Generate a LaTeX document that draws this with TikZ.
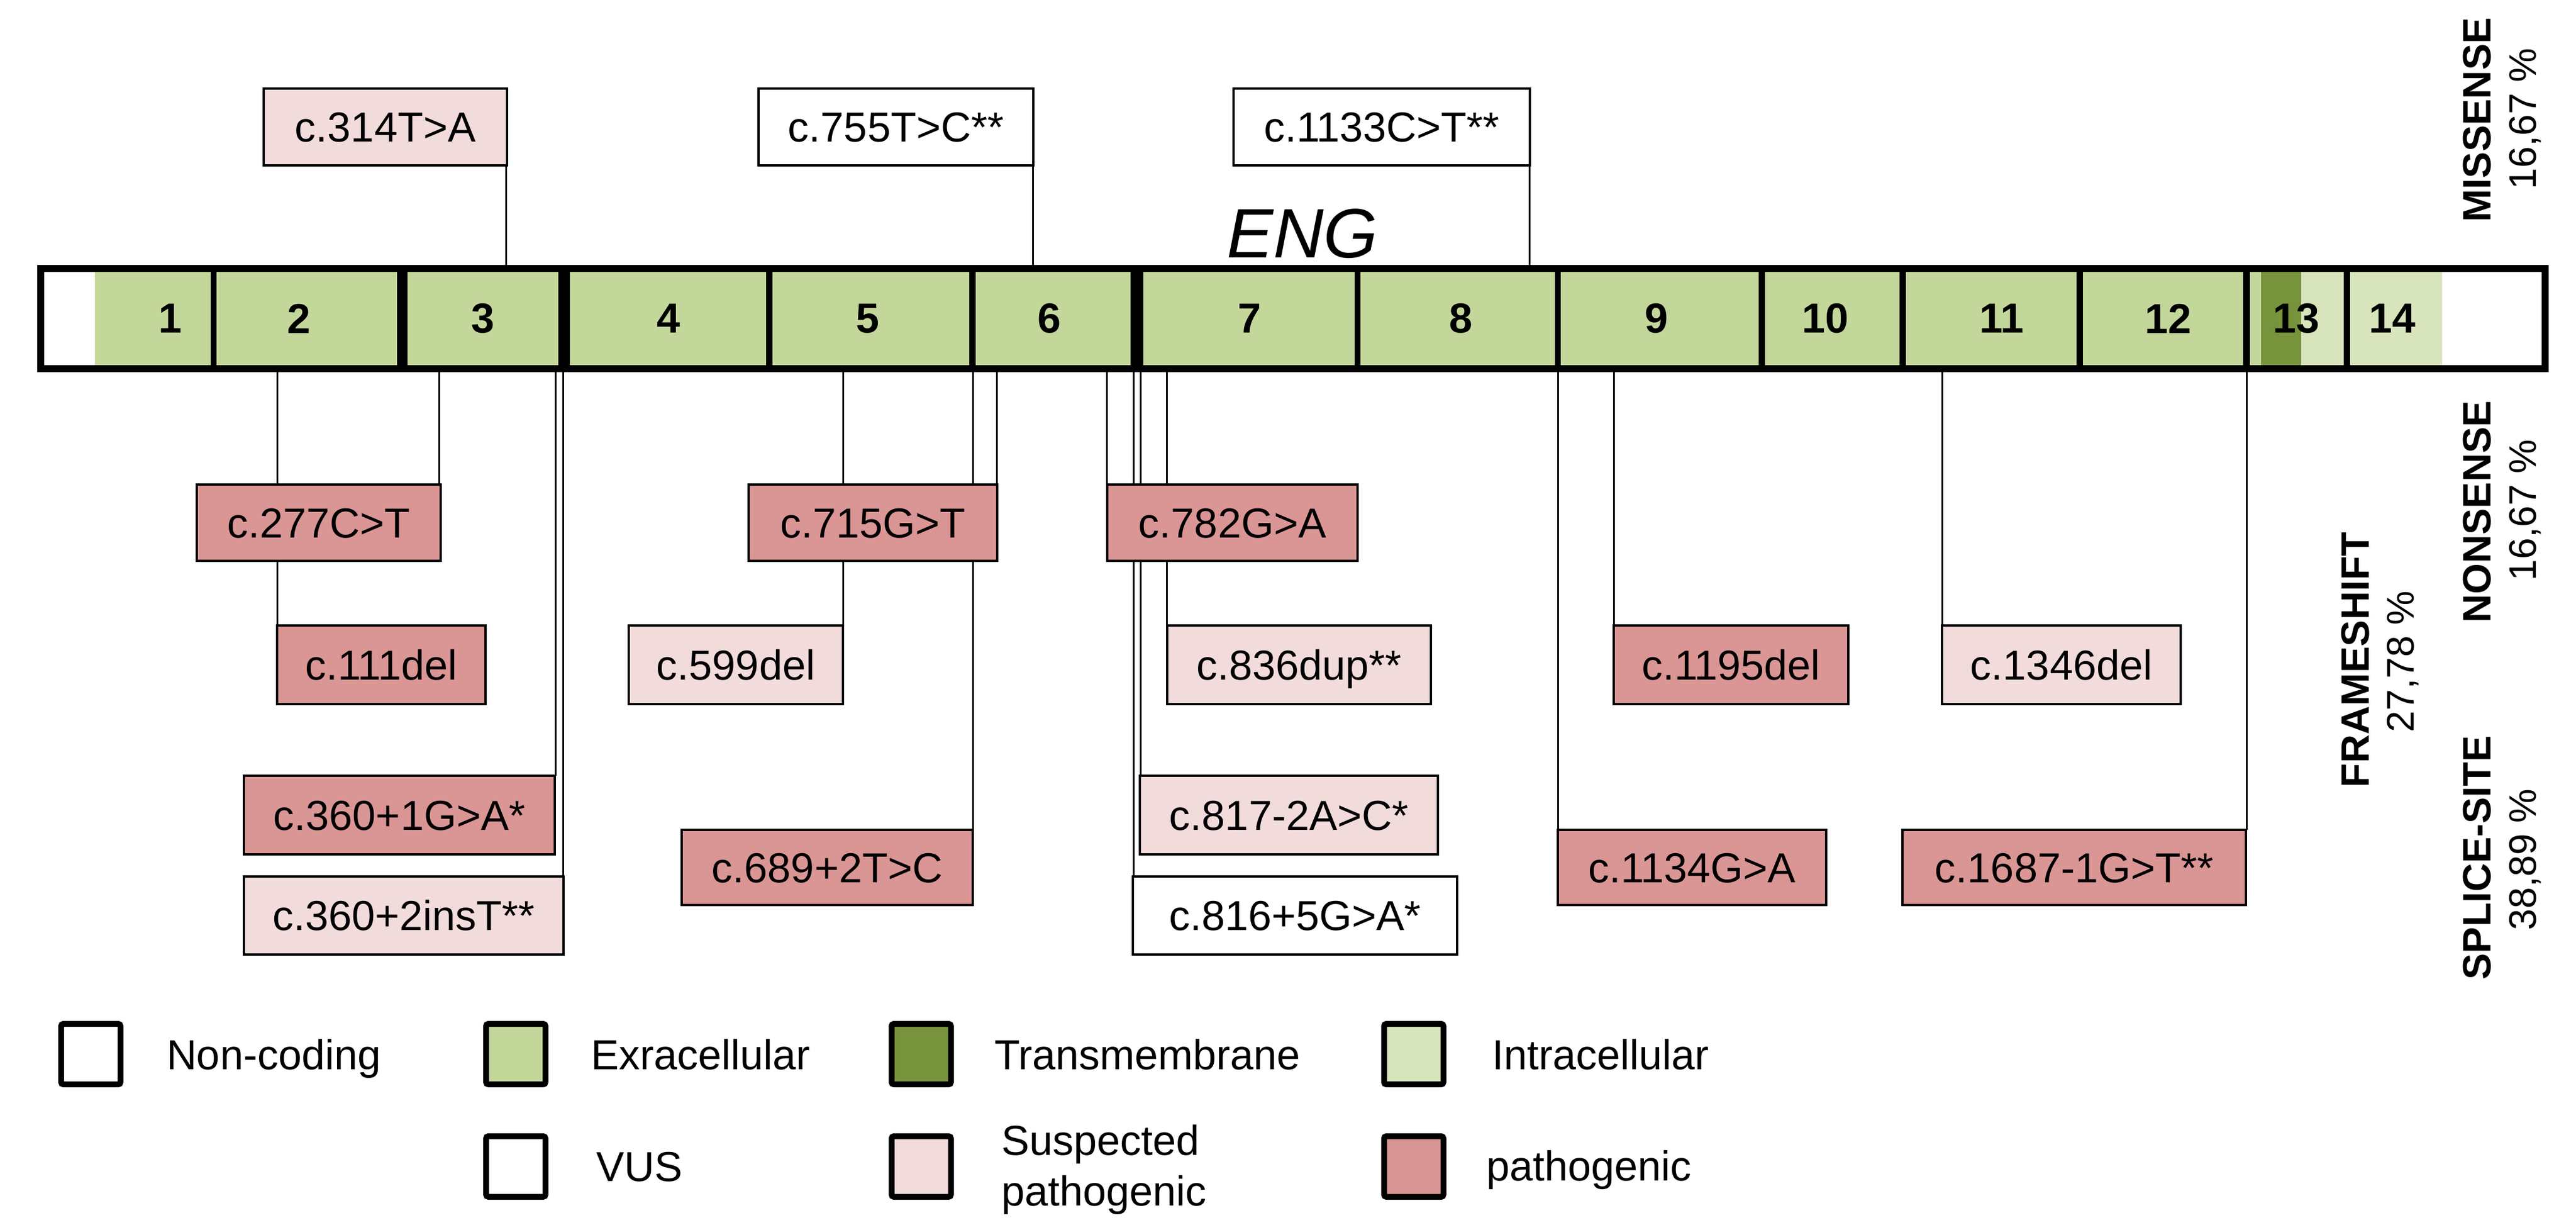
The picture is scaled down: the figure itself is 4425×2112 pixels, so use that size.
\documentclass[tikz,border=0pt]{standalone}
\usepackage{fontspec}
\setmainfont{Liberation Sans}
\usetikzlibrary{calc}
\definecolor{exgreen}{HTML}{C4D79B}
\definecolor{tmgreen}{HTML}{77933C}
\definecolor{ingreen}{HTML}{D8E4BC}
\definecolor{pathc}{HTML}{DA9694}
\definecolor{suspc}{HTML}{F2DCDB}
\pgfdeclarelayer{bg}
\pgfsetlayers{bg,main}
\tikzset{
  mbox/.style={draw=black, line width=0.4pt, outer sep=0pt, inner sep=0pt,
    text height=5.15pt, text depth=0pt, font=\fontsize{7.2}{8.6}\selectfont},
  vusf/.style={fill=white},
  suspf/.style={fill=suspc},
  pathf/.style={fill=pathc},
  conn/.style={draw=black, line width=0.3pt},
  exnum/.style={inner sep=0pt, font=\bfseries\fontsize{7.2}{8.6}\selectfont},
  cat/.style={inner sep=0pt, font=\bfseries\fontsize{6.8}{8}\selectfont},
  pct/.style={inner sep=0pt, font=\fontsize{6.6}{8}\selectfont},
  legbox/.style={draw=black, line width=1pt, outer sep=0pt, inner sep=0pt,
    minimum width=10.2pt, minimum height=10.4pt, rounded corners=0.4pt},
  legtext/.style={inner sep=0pt, anchor=base west, font=\fontsize{7.2}{8.7}\selectfont},
}
\begin{document}
\begin{tikzpicture}[x=0.1pt, y=-0.1pt]
\useasboundingbox (0,0) rectangle (4425,2112);

% ---------- gene bar ----------
\fill[white] (76,467) rectangle (163,627);
\fill[exgreen] (163,467) rectangle (3884,627);
\fill[tmgreen] (3884,467) rectangle (3953,627);
\fill[ingreen] (3953,467) rectangle (4195,627);
\fill[white] (4195,467) rectangle (4366,627);
\foreach \x/\w in {367/1.0, 691/1.8, 969/2.0, 1321/1.1, 1670/1.1, 1953/2.2,
                   2332/1.0, 2676/1.0, 3026/1.1, 3268/1.1, 3572/1.1, 3859/1.2, 4031/1.1}
  \draw[line width=\w pt] (\x,467) -- (\x,627);
\draw[line width=1.2pt] (70,461) rectangle (4372,633);
\foreach \x/\n in {293/1, 514/2, 829/3, 1148/4, 1490/5, 1802/6, 2146/7, 2509/8,
                   2845/9, 3135/10, 3438/11, 3724/12, 3944/13, 4109/14}
  \node[exnum] (e\n) at (\x,547) {\n};
\node[inner sep=0pt, anchor=base, font=\itshape\fontsize{12}{14}\selectfont] (eng) at (2237,443) {ENG};

% ---------- attachment points on the bar ----------
\coordinate (t314) at (869,455);
\coordinate (t755) at (1774,455);
\coordinate (t1133) at (2627,455);
\coordinate (b111) at (476,639);
\coordinate (b277) at (754,639);
\coordinate (b3601) at (954,639);
\coordinate (b3602) at (967,639);
\coordinate (b599) at (1448,639);
\coordinate (b689) at (1671,639);
\coordinate (b715) at (1712,639);
\coordinate (b782) at (1901,639);
\coordinate (b816) at (1947,639);
\coordinate (b817) at (1959,639);
\coordinate (b836) at (2004,639);
\coordinate (b1134) at (2676,639);
\coordinate (b1195) at (2772,639);
\coordinate (b1346) at (3336,639);
\coordinate (b1687) at (3859,639);

% ---------- variant boxes ----------
% above the bar
\node[mbox, suspf, minimum width=41.8pt, minimum height=13.2pt] (m314) at (662,218) {c.314T>A};
\node[mbox, vusf, minimum width=47.2pt, minimum height=13.2pt] (m755) at (1539,218) {c.755T>C**};
\node[mbox, vusf, minimum width=50.9pt, minimum height=13.2pt] (m1133) at (2373.5,218) {c.1133C>T**};
% row A
\node[mbox, pathf, minimum width=41.9pt, minimum height=13.1pt] (m277) at (547.5,897.5) {c.277C>T};
\node[mbox, pathf, minimum width=42.7pt, minimum height=13.1pt] (m715) at (1499.5,897.5) {c.715G>T};
\node[mbox, pathf, minimum width=43.0pt, minimum height=13.1pt] (m782) at (2117,897.5) {c.782G>A};
% row B
\node[mbox, pathf, minimum width=35.8pt, minimum height=13.5pt] (m111) at (655,1141.5) {c.111del};
\node[mbox, suspf, minimum width=36.8pt, minimum height=13.5pt] (m599) at (1264,1141.5) {c.599del};
\node[mbox, suspf, minimum width=45.3pt, minimum height=13.5pt] (m836) at (2231.5,1141.5) {c.836dup**};
\node[mbox, pathf, minimum width=40.3pt, minimum height=13.5pt] (m1195) at (2973.5,1141.5) {c.1195del};
\node[mbox, suspf, minimum width=41.0pt, minimum height=13.5pt] (m1346) at (3541,1141.5) {c.1346del};
% row C
\node[mbox, pathf, minimum width=53.4pt, minimum height=13.5pt] (m3601) at (686,1399.5) {c.360+1G>A*};
\node[mbox, suspf, minimum width=51.2pt, minimum height=13.5pt] (m817) at (2214,1399.5) {c.817-2A>C*};
% row D
\node[mbox, pathf, minimum width=50.0pt, minimum height=12.9pt] (m689) at (1421,1489.5) {c.689+2T>C};
\node[mbox, pathf, minimum width=46.1pt, minimum height=12.9pt] (m1134) at (2906.5,1489.5) {c.1134G>A};
\node[mbox, pathf, minimum width=59.0pt, minimum height=12.9pt] (m1687) at (3563,1489.5) {c.1687-1G>T**};
% row E
\node[mbox, suspf, minimum width=54.9pt, minimum height=13.4pt] (m3602) at (693.5,1572) {c.360+2insT**};
\node[mbox, vusf, minimum width=55.7pt, minimum height=13.4pt] (m816) at (2224.5,1572) {c.816+5G>A*};

% ---------- connectors (behind the boxes) ----------
\begin{pgfonlayer}{bg}
\draw[conn] (t314) -- (t314 |- m314.south);
\draw[conn] (t755) -- (t755 |- m755.south);
\draw[conn] (t1133) -- (t1133 |- m1133.south);
\foreach \n in {111,277,3601,3602,599,689,715,782,816,817,836,1134,1195,1346,1687}
  \draw[conn] (b\n) -- (b\n |- m\n.north);
\end{pgfonlayer}

% ---------- mutation type summary ----------
\node[cat, rotate=90] (missense) at (4255,206) {MISSENSE};
\node[pct, rotate=90] (pmissense) at (4338,204) {16,67 \%};
\node[cat, rotate=90] (nonsense) at (4255,879) {NONSENSE};
\node[pct, rotate=90] (pnonsense) at (4338,876) {16,67 \%};
\node[cat, rotate=90] (frameshift) at (4046,1133) {FRAMESHIFT};
\node[pct, rotate=90] (pframeshift) at (4128,1136) {27,78 \%};
\node[cat, rotate=90] (splice) at (4255,1473) {SPLICE-SITE};
\node[pct, rotate=90] (psplice) at (4338,1476) {38,89 \%};

% ---------- legend ----------
\node[legbox, fill=white] (lnc) at (156,1810) {};
\node[legbox, fill=exgreen] (lex) at (886,1810) {};
\node[legbox, fill=tmgreen] (ltm) at (1582.5,1810) {};
\node[legbox, fill=ingreen] (lin) at (2428.5,1810) {};
\node[legbox, fill=white] (lvus) at (886,2003) {};
\node[legbox, fill=suspc] (lsusp) at (1582.5,2003) {};
\node[legbox, fill=pathc] (lpath) at (2428.5,2003) {};
\node[legtext] (tnc) at (284,1837) {Non-coding};
\node[legtext] (tex) at (1013,1837) {Exracellular};
\node[legtext] (ttm) at (1706,1837) {Transmembrane};
\node[legtext] (tin) at (2561,1837) {Intracellular};
\node[legtext] (tvus) at (1022,2028) {VUS};
\node[legtext] (tsusp1) at (1718,1983) {Suspected};
\node[legtext] (tsusp2) at (1718,2070) {pathogenic};
\node[legtext] (tpath) at (2551,2027) {pathogenic};
\end{tikzpicture}
\end{document}
